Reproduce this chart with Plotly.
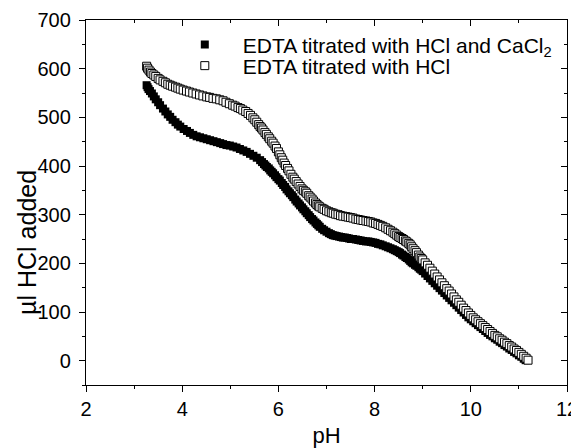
import plotly.graph_objects as go

# pH values and HCl volume (µl) for EDTA titrated with HCl and CaCl2 (filled squares)
ph_ca = [3.26, 3.28, 3.30, 3.33, 3.37, 3.41, 3.45, 3.50, 3.54, 3.60, 3.65, 3.70, 3.75, 3.80, 3.86, 3.91,
         3.96, 4.03, 4.10, 4.16, 4.23, 4.30, 4.37, 4.44, 4.51, 4.58, 4.65, 4.72, 4.79, 4.85, 4.92, 4.99,
         5.06, 5.13, 5.20, 5.27, 5.34, 5.41, 5.48, 5.55, 5.62, 5.66, 5.70, 5.73, 5.76, 5.80, 5.83, 5.86,
         5.89, 5.93, 5.96, 6.00, 6.03, 6.07, 6.10, 6.14, 6.17, 6.21, 6.24, 6.28, 6.31, 6.35, 6.38, 6.42,
         6.45, 6.49, 6.52, 6.56, 6.59, 6.63, 6.66, 6.70, 6.73, 6.77, 6.80, 6.83, 6.86, 6.91, 6.95, 7.00,
         7.05, 7.09, 7.13, 7.17, 7.21, 7.26, 7.30, 7.34, 7.38, 7.43, 7.47, 7.51, 7.55, 7.61, 7.66, 7.71,
         7.76, 7.82, 7.87, 7.92, 7.97, 8.02, 8.07, 8.12, 8.17, 8.23, 8.28, 8.33, 8.38, 8.42, 8.46, 8.50,
         8.53, 8.57, 8.60, 8.64, 8.67, 8.71, 8.74, 8.77, 8.80, 8.84, 8.87, 8.91, 8.94, 8.97, 9.00, 9.05,
         9.10, 9.15, 9.20, 9.25, 9.30, 9.35, 9.40, 9.45, 9.50, 9.55, 9.60, 9.65, 9.70, 9.75, 9.80, 9.85,
         9.90, 9.95, 10.00, 10.05, 10.10, 10.15, 10.20, 10.25, 10.30, 10.35, 10.40, 10.45, 10.50, 10.55,
         10.60, 10.65, 10.70, 10.75, 10.80, 10.85, 10.90, 10.95, 11.00, 11.05, 11.10, 11.14]
hcl_ca = [566, 562, 558, 554, 549, 543, 537, 531, 525, 518, 512, 506, 501, 495, 490, 485,
          481, 476, 472, 468, 464, 461, 459, 457, 455, 453, 451, 449, 447, 445, 443, 442,
          440, 438, 435, 432, 429, 425, 421, 417, 412, 408, 404, 401, 398, 395, 391, 388,
          385, 381, 377, 373, 370, 365, 361, 357, 352, 348, 344, 340, 336, 331, 327, 323,
          319, 315, 311, 307, 303, 299, 295, 291, 288, 284, 281, 278, 275, 271, 268, 265,
          262, 260, 258, 257, 256, 255, 254, 253, 253, 252, 251, 250, 250, 249, 248, 247,
          246, 245, 245, 244, 243, 242, 240, 239, 237, 235, 233, 231, 229, 227, 225, 223,
          221, 218, 216, 213, 211, 208, 205, 202, 200, 197, 195, 192, 189, 187, 184, 179,
          174, 169, 164, 159, 154, 149, 144, 139, 134, 129, 124, 119, 114, 109, 104, 99,
          94, 89, 85, 81, 77, 73, 69, 65, 61, 57, 53, 50, 46, 43,
          39, 36, 32, 29, 25, 22, 18, 15, 11, 8, 4, 1]

# pH values and HCl volume (µl) for EDTA titrated with HCl (open squares)
ph_hcl = [3.26, 3.28, 3.31, 3.34, 3.37, 3.41, 3.45, 3.50, 3.54, 3.60, 3.65, 3.70, 3.75, 3.80, 3.86, 3.91,
          3.96, 4.02, 4.09, 4.15, 4.22, 4.29, 4.36, 4.43, 4.51, 4.57, 4.64, 4.71, 4.78, 4.85, 4.91, 4.98,
          5.05, 5.10, 5.16, 5.21, 5.26, 5.32, 5.37, 5.42, 5.47, 5.51, 5.55, 5.59, 5.62, 5.65, 5.68, 5.72,
          5.75, 5.79, 5.82, 5.86, 5.89, 5.93, 5.96, 6.00, 6.03, 6.06, 6.09, 6.12, 6.15, 6.19, 6.22, 6.26,
          6.30, 6.33, 6.37, 6.41, 6.45, 6.49, 6.52, 6.56, 6.59, 6.63, 6.66, 6.70, 6.73, 6.77, 6.80, 6.83,
          6.86, 6.91, 6.95, 7.00, 7.05, 7.10, 7.14, 7.19, 7.24, 7.29, 7.34, 7.40, 7.45, 7.50, 7.55, 7.61,
          7.66, 7.71, 7.76, 7.82, 7.87, 7.92, 7.97, 8.02, 8.07, 8.12, 8.17, 8.23, 8.28, 8.33, 8.38, 8.42,
          8.46, 8.50, 8.53, 8.57, 8.60, 8.64, 8.67, 8.71, 8.74, 8.77, 8.80, 8.84, 8.87, 8.91, 8.94, 8.97,
          9.00, 9.05, 9.10, 9.15, 9.20, 9.25, 9.30, 9.35, 9.40, 9.45, 9.50, 9.55, 9.60, 9.65, 9.70, 9.75,
          9.80, 9.85, 9.90, 9.95, 10.00, 10.05, 10.10, 10.15, 10.20, 10.25, 10.30, 10.35, 10.40, 10.45,
          10.50, 10.55, 10.60, 10.65, 10.70, 10.75, 10.80, 10.85, 10.90, 10.95, 11.00, 11.05, 11.10,
          11.15, 11.19]
hcl_hcl = [605, 601, 597, 593, 590, 587, 584, 580, 577, 574, 571, 568, 566, 564, 562, 560,
           558, 556, 554, 552, 550, 548, 546, 544, 542, 541, 539, 538, 536, 534, 531, 528,
           525, 523, 520, 518, 515, 512, 508, 504, 499, 495, 490, 485, 481, 478, 474, 469,
           465, 460, 456, 451, 447, 441, 436, 429, 423, 417, 412, 406, 401, 395, 390, 383,
           377, 373, 368, 363, 358, 353, 350, 347, 344, 339, 336, 332, 328, 324, 321, 318,
           316, 313, 311, 308, 306, 304, 303, 301, 300, 298, 297, 296, 295, 294, 293, 291,
           290, 289, 288, 287, 286, 285, 283, 282, 280, 278, 276, 273, 270, 267, 264, 261,
           258, 255, 253, 251, 249, 246, 244, 241, 238, 234, 230, 226, 222, 217, 213, 210,
           207, 201, 196, 190, 184, 178, 172, 166, 160, 154, 148, 143, 137, 131, 125, 120,
           114, 108, 103, 98, 93, 88, 84, 80, 76, 72, 68, 64, 60, 56,
           52, 49, 45, 42, 38, 35, 31, 28, 24, 21, 17, 13, 9,
           5, 1]

x_title = "pH"
y_title = "µl HCl added"

FONT = "Liberation Sans, Arial, sans-serif"

fig = go.Figure()
fig.add_trace(go.Scatter(
    x=ph_ca, y=hcl_ca, mode="markers",
    name="EDTA titrated with HCl and CaCl<sub>2</sub>", legend="legend",
    marker=dict(symbol="square", size=8, color="black", line=dict(width=0)),
))
fig.add_trace(go.Scatter(
    x=ph_hcl, y=hcl_hcl, mode="markers",
    name="EDTA titrated with HCl", legend="legend2",
    marker=dict(symbol="square", size=8, color="white", line=dict(color="black", width=1)),
))
# empty trace to host the mirrored (top/right) axes
fig.add_trace(go.Scatter(x=[], y=[], xaxis="x2", yaxis="y2", showlegend=False, hoverinfo="skip"))

axis_common = dict(showgrid=False, zeroline=False, showline=True, linecolor="black", linewidth=1.3,
                   tickcolor="black", tickwidth=1, automargin=False)

leg_common = dict(xanchor="left", yanchor="middle", bgcolor="rgba(0,0,0,0)",
                  font=dict(size=21, family=FONT, color="black"), itemwidth=66, borderwidth=0)

fig.update_layout(
    width=571, height=440,
    margin=dict(l=78, r=12, t=12, b=63, autoexpand=False),
    paper_bgcolor="white", plot_bgcolor="white",
    font=dict(family=FONT, color="black", size=20),
    showlegend=True,
    legend=dict(x=0.168, y=0.932, **leg_common),
    legend2=dict(x=0.168, y=0.874, **leg_common),
    xaxis=dict(range=[2, 12], dtick=2, tick0=2, ticks="outside", ticklen=6,
               minor=dict(dtick=1, ticks="outside", ticklen=3, tickcolor="black", tickwidth=1),
               title=dict(text=x_title, font=dict(size=22), standoff=9), **axis_common),
    yaxis=dict(range=[-50, 700], dtick=100, tick0=0, ticks="outside", ticklen=6, ticklabelstandoff=4,
               minor=dict(dtick=50, tick0=0, ticks="outside", ticklen=3, tickcolor="black", tickwidth=1),
               **axis_common),
    xaxis2=dict(range=[2, 12], dtick=2, tick0=2, ticks="inside", ticklen=6, overlaying="x", side="top",
                anchor="y", showticklabels=False,
                minor=dict(dtick=1, ticks="inside", ticklen=3, tickcolor="black", tickwidth=1),
                **axis_common),
    yaxis2=dict(range=[-50, 700], dtick=100, tick0=0, ticks="inside", ticklen=6, overlaying="y", side="right",
                anchor="x", showticklabels=False,
                minor=dict(dtick=50, tick0=0, ticks="inside", ticklen=3, tickcolor="black", tickwidth=1),
                **axis_common),
    annotations=[dict(text=y_title, xref="paper", yref="paper", x=-0.1227, y=0.392,
                      xanchor="center", yanchor="middle", textangle=-90, showarrow=False,
                      font=dict(size=25, family=FONT, color="black"))],
)

fig.write_html("out.html")
